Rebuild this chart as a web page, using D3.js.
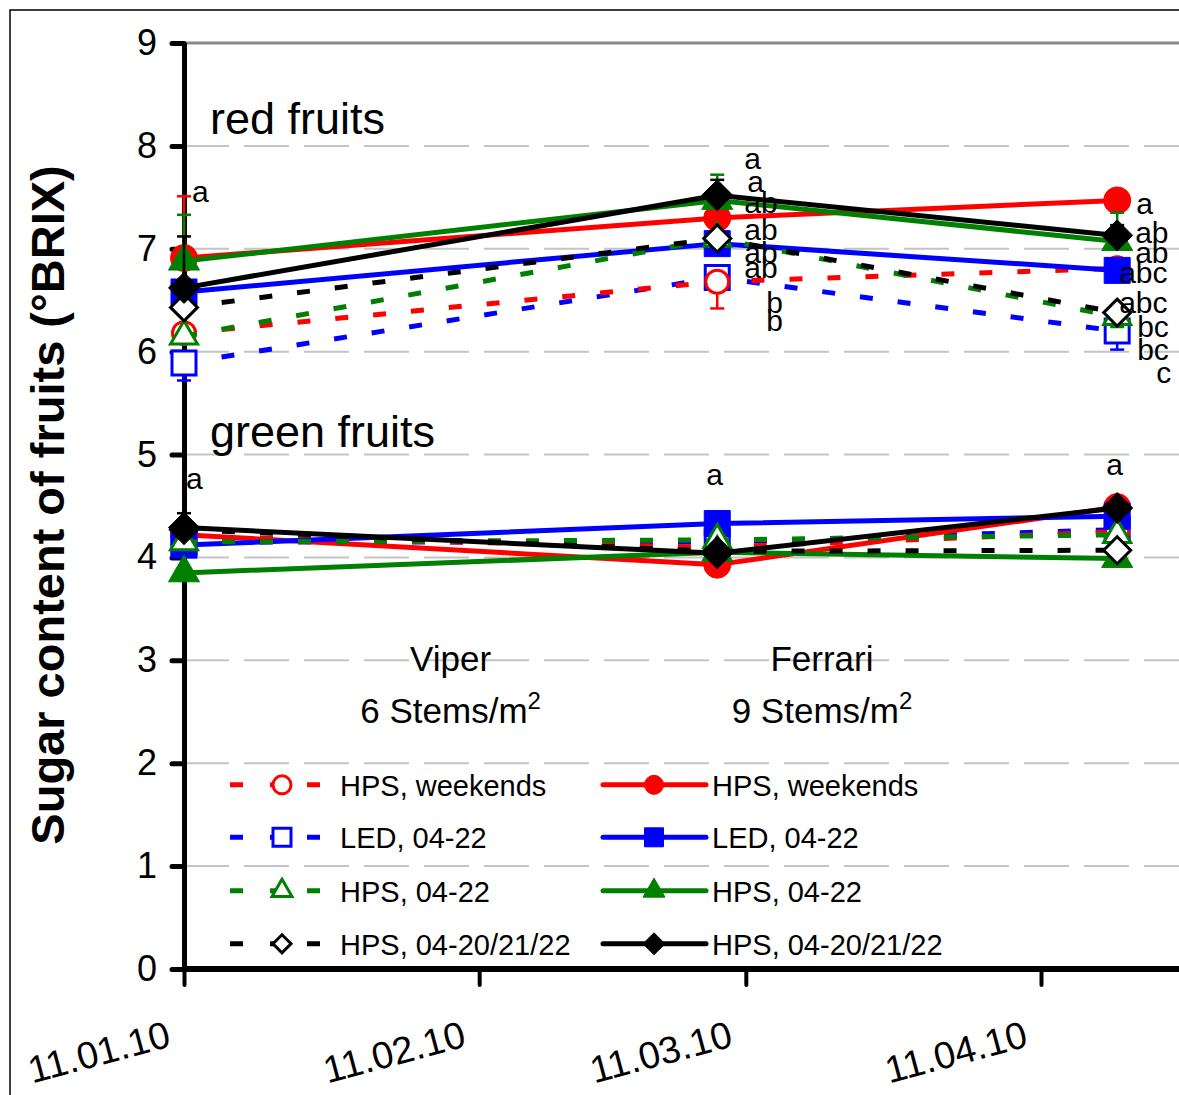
<!DOCTYPE html>
<html><head><meta charset="utf-8">
<script src="https://cdn.jsdelivr.net/npm/d3@7"></script>
<style>
body{margin:0;background:#fff}
svg{display:block}
text{font-family:"Liberation Sans",Arial,Helvetica,sans-serif;fill:#000}
</style>
</head><body>
<svg id="chart" width="1179" height="1095"></svg>
<script>
// ---------- data ----------
const sampleDates = ["2010-01-11","2010-03-08","2010-04-19"];
const axisDates   = ["2010-01-11","2010-02-11","2010-03-11","2010-04-11"];
const axisLabels  = ["11.01.10","11.02.10","11.03.10","11.04.10"];
const yTicks      = [0,1,2,3,4,5,6,7,8,9];
const gridValues  = [1,2,3,4,5,6,7,8];

const seriesNames  = ["HPS, weekends","LED, 04-22","HPS, 04-22","HPS, 04-20/21/22"];

// red fruits (°BRIX)
const redFruit_HPSweekends_dashed = [6.18, 6.68, 6.81];
const redFruit_LED_dashed         = [5.89, 6.72, 6.20];
const redFruit_HPS0422_dashed     = [6.15, 7.10, 6.34];
const redFruit_HPS042022_dashed   = [6.43, 7.10, 6.38];
const redFruit_HPSweekends_solid  = [6.91, 7.30, 7.47];
const redFruit_LED_solid          = [6.58, 7.05, 6.79];
const redFruit_HPS0422_solid      = [6.88, 7.47, 7.07];
const redFruit_HPS042022_solid    = [6.62, 7.52, 7.13];
// green fruits (°BRIX)
const greenFruit_HPSweekends_dashed = [4.20, 4.10, 4.25];
const greenFruit_LED_dashed         = [4.15, 4.15, 4.27];
const greenFruit_HPS0422_dashed     = [4.15, 4.17, 4.22];
const greenFruit_HPS042022_dashed   = [4.27, 4.06, 4.07];
const greenFruit_HPSweekends_solid  = [4.22, 3.93, 4.49];
const greenFruit_LED_solid          = [4.12, 4.33, 4.40];
const greenFruit_HPS0422_solid      = [3.85, 4.05, 3.99];
const greenFruit_HPS042022_solid    = [4.29, 4.04, 4.48];

// error bars (solid: upward, dashed: downward)
const redErr_HPSweekends_solid = [0.60, 0.00, 0.00];
const redErr_LED_solid         = [0.00, 0.05, 0.08];
const redErr_HPS0422_solid     = [0.45, 0.25, 0.28];
const redErr_HPS042022_solid   = [0.50, 0.15, 0.10];
const redErr_HPSweekends_dashed= [0.00, 0.26, 0.00];
const redErr_LED_dashed        = [0.17, 0.00, 0.18];
const redErr_HPS0422_dashed    = [0.00, 0.00, 0.10];
const redErr_HPS042022_dashed  = [0.00, 0.00, 0.00];
const greenErr_HPS042022_solid = [0.14, 0.00, 0.00];
const zeroErr = [0,0,0];

// significance letters (date index, label, y value of baseline)
const letterIdx   = [0, 1,1,1,1,1,1,1,1, 2,2,2,2,2,2,2,2, 0,1,2];
const letterText  = ["a", "a","a","ab","ab","ab","ab","b","b", "a","ab","ab","abc","abc","bc","bc","c", "a","a","a"];
const letterValue = [7.45, 7.78,7.55,7.35,7.09,6.86,6.72,6.38,6.20, 7.34,7.06,6.86,6.67,6.38,6.14,5.92,5.70, 4.67,4.70,4.80];
const letterDx    = [8, 27,30,27,27,27,27,49,49, 19,18,18,2,2,20,20,39, 2,-11,-11];

// ---------- setup ----------
const parse = d3.timeParse("%Y-%m-%d");
const svg = d3.select("#chart");
const FONT = '"Liberation Sans",Arial,Helvetica,sans-serif';

const x = d3.scaleTime().domain([parse("2010-01-11"), parse("2010-04-11")]).range([184, 1041]);
const y = d3.scaleLinear().domain([0, 9]).range([969, 43]);
const xRightEnd = x(parse("2010-04-30"));

// outer frame
svg.append("rect").attr("x",10).attr("y",10).attr("width",1300).attr("height",1300)
  .attr("fill","none").attr("stroke","#000").attr("stroke-width",1.5);

// grid
svg.append("g").selectAll("line").data(gridValues).join("line")
  .attr("x1", x(parse("2010-01-11"))).attr("x2", xRightEnd)
  .attr("y1", d=>y(d)).attr("y2", d=>y(d))
  .attr("stroke","#c4c4c4").attr("stroke-width",2).attr("stroke-dasharray","45,15");
svg.append("line").attr("x1", x(parse("2010-01-11"))).attr("x2", xRightEnd)
  .attr("y1", y(9)).attr("y2", y(9)).attr("stroke","#8a8a8a").attr("stroke-width",3);

// y axis
const yAxis = svg.append("g").attr("transform",`translate(${x(parse("2010-01-11"))},0)`)
  .call(d3.axisLeft(y).tickValues(yTicks).tickSize(12).tickSizeOuter(0).tickPadding(15).tickFormat(d3.format("d")));
yAxis.select(".domain").attr("stroke","#000").attr("stroke-width",5);
yAxis.selectAll(".tick line").attr("stroke","#000").attr("stroke-width",5).attr("stroke-linecap","round");
yAxis.selectAll(".tick text").attr("font-size",36).attr("font-family",FONT);

// x axis
const xAxis = svg.append("g").attr("transform",`translate(0,${y(0)})`)
  .call(d3.axisBottom(x).tickValues(axisDates.map(parse)).tickSize(16).tickSizeOuter(0)
    .tickFormat((d,i)=>axisLabels[i]));
xAxis.select(".domain").remove();
xAxis.selectAll(".tick line").attr("stroke","#000").attr("stroke-width",4).attr("stroke-linecap","round");
xAxis.selectAll(".tick text").attr("font-size",38).attr("font-family",FONT)
  .attr("text-anchor","end").attr("y",0).attr("dy",0)
  .attr("transform","translate(-12,77) rotate(-15)");
svg.append("line").attr("x1", x(parse("2010-01-11"))-2).attr("x2", xRightEnd)
  .attr("y1", y(0)).attr("y2", y(0)).attr("stroke","#000").attr("stroke-width",6);

// ---------- marker shapes ----------
function shapePath(type, s){
  const h = s/2;
  if(type==="circle") return `M${-h},0A${h},${h} 0 1,0 ${h},0A${h},${h} 0 1,0 ${-h},0Z`;
  if(type==="square") return `M${-h},${-h}H${h}V${h}H${-h}Z`;
  if(type==="triangle"){ const ht = s*0.866; return `M0,${-2*ht/3}L${h},${ht/3}L${-h},${ht/3}Z`; }
  if(type==="diamond") return `M0,${-h}L${h},0L0,${h}L${-h},0Z`;
}

const colorOf = {red:"#ff0000", blue:"#0000ff", green:"#008000", black:"#000000"};
const shapeOf = {red:"circle", blue:"square", green:"triangle", black:"diamond"};
const filledSize = {circle:27, square:26, triangle:31, diamond:31};
const openSize   = {circle:23, square:24, triangle:27, diamond:27};

function series(values, err, color, dashed){ return {values, err, color, dashed}; }

// drawing order
const groups = [
  [ series(redFruit_LED_dashed, redErr_LED_dashed, "blue", true),
    series(redFruit_HPSweekends_dashed, redErr_HPSweekends_dashed, "red", true),
    series(redFruit_HPSweekends_solid, redErr_HPSweekends_solid, "red", false),
    series(redFruit_LED_solid, redErr_LED_solid, "blue", false),
    series(redFruit_HPS0422_dashed, redErr_HPS0422_dashed, "green", true),
    series(redFruit_HPS0422_solid, redErr_HPS0422_solid, "green", false),
    series(redFruit_HPS042022_dashed, redErr_HPS042022_dashed, "black", true),
    series(redFruit_HPS042022_solid, redErr_HPS042022_solid, "black", false) ],
  [ series(greenFruit_LED_dashed, zeroErr, "blue", true),
    series(greenFruit_HPSweekends_dashed, zeroErr, "red", true),
    series(greenFruit_HPSweekends_solid, zeroErr, "red", false),
    series(greenFruit_LED_solid, zeroErr, "blue", false),
    series(greenFruit_HPS0422_dashed, zeroErr, "green", true),
    series(greenFruit_HPS0422_solid, zeroErr, "green", false),
    series(greenFruit_HPS042022_dashed, zeroErr, "black", true),
    series(greenFruit_HPS042022_solid, greenErr_HPS042022_solid, "black", false) ]
];

const line = d3.line().x(d=>x(d.date)).y(d=>y(d.v));
const plot = svg.append("g");
groups.forEach(group=>{
  group.forEach(s=>{
    const pts = s.values.map((v,i)=>({date:parse(sampleDates[i]), v, e:s.err[i]}));
    const col = colorOf[s.color];
    const g = plot.append("g");
    g.append("path").datum(pts).attr("d",line).attr("fill","none")
      .attr("stroke",col).attr("stroke-width",5)
      .attr("stroke-dasharray", s.dashed ? "13,25" : null)
      .attr("stroke-linejoin","round");
    // error bars
    const eb = g.selectAll(".eb").data(pts.filter(p=>p.e>0)).join("g");
    eb.append("line").attr("x1",p=>x(p.date)).attr("x2",p=>x(p.date))
      .attr("y1",p=>y(p.v)).attr("y2",p=>y(s.dashed ? p.v - p.e : p.v + p.e))
      .attr("stroke",col).attr("stroke-width",2.5);
    eb.append("line").attr("x1",p=>x(p.date)-7).attr("x2",p=>x(p.date)+7)
      .attr("y1",p=>y(s.dashed ? p.v - p.e : p.v + p.e)).attr("y2",p=>y(s.dashed ? p.v - p.e : p.v + p.e))
      .attr("stroke",col).attr("stroke-width",2.5);
    // markers
    const shp = shapeOf[s.color];
    g.selectAll(".m").data(pts).join("path")
      .attr("transform",p=>`translate(${x(p.date)},${y(p.v)})`)
      .attr("d", shapePath(shp, s.dashed ? openSize[shp] : filledSize[shp]))
      .attr("fill", s.dashed ? "#fff" : col)
      .attr("stroke", col).attr("stroke-width", s.dashed ? 3 : 1)
      .attr("stroke-linejoin","miter");
  });
});

// significance letters
svg.append("g").selectAll("text").data(letterText).join("text")
  .attr("x",(d,i)=>x(parse(sampleDates[letterIdx[i]])) + letterDx[i])
  .attr("y",(d,i)=>y(letterValue[i]))
  .attr("font-size",30).attr("font-family",FONT)
  .text(d=>d);

// section titles
const titles = [{t:"red fruits", v:8.12},{t:"green fruits", v:5.07}];
svg.append("g").selectAll("text").data(titles).join("text")
  .attr("x", x(parse("2010-01-11"))+26).attr("y", d=>y(d.v))
  .attr("font-size",45).attr("font-family",FONT).text(d=>d.t);

// cultivar labels
const cultivars = [{name:"Viper", stems:"6 Stems/m", date:"2010-02-08"},
                   {name:"Ferrari", stems:"9 Stems/m", date:"2010-03-19"}];
const cg = svg.append("g").selectAll("g").data(cultivars).join("g");
cg.append("text").attr("x",d=>x(parse(d.date))).attr("y",y(2.9)).attr("text-anchor","middle")
  .attr("font-size",35).attr("font-family",FONT).text(d=>d.name);
const st = cg.append("text").attr("x",d=>x(parse(d.date))).attr("y",y(2.39)).attr("text-anchor","middle")
  .attr("font-size",35).attr("font-family",FONT);
st.append("tspan").text(d=>d.stems);
st.append("tspan").attr("dy",-14).attr("font-size",24).text("2");

// y label
svg.append("text").attr("transform",`translate(64,${y(4.51)}) rotate(-90)`)
  .attr("text-anchor","middle").attr("font-size",47).attr("font-weight","bold")
  .attr("font-family",FONT).text("Sugar content of fruits (°BRIX)");

// ---------- legend ----------
const legColors = ["red","blue","green","black"];
const legRowV = [1.79, 1.28, 0.76, 0.245];
const leg = svg.append("g");
legColors.forEach((c,i)=>{
  const yy = y(legRowV[i]);
  const col = colorOf[c], shp = shapeOf[c];
  // dashed (left)
  leg.append("line").attr("x1",230).attr("x2",320).attr("y1",yy).attr("y2",yy)
    .attr("stroke",col).attr("stroke-width",5).attr("stroke-dasharray","13,64");
  leg.append("line").attr("x1",270).attr("x2",278).attr("y1",yy).attr("y2",yy)
    .attr("stroke",col).attr("stroke-width",5);
  leg.append("path").attr("transform",`translate(282,${yy})`).attr("d",shapePath(shp, shp==="triangle"?20:18))
    .attr("fill","#fff").attr("stroke",col).attr("stroke-width",3);
  leg.append("text").attr("x",340).attr("y",yy+11).attr("font-size",29).attr("font-family",FONT).text(seriesNames[i]);
  // solid (right)
  leg.append("line").attr("x1",603).attr("x2",706).attr("y1",yy).attr("y2",yy)
    .attr("stroke",col).attr("stroke-width",5).attr("stroke-linecap","round");
  leg.append("path").attr("transform",`translate(654,${yy})`).attr("d",shapePath(shp, shp==="triangle"?22:(shp==="diamond"?22:19)))
    .attr("fill",col).attr("stroke",col).attr("stroke-width",1);
  leg.append("text").attr("x",712).attr("y",yy+11).attr("font-size",29).attr("font-family",FONT).text(seriesNames[i]);
});
</script>
</body></html>
